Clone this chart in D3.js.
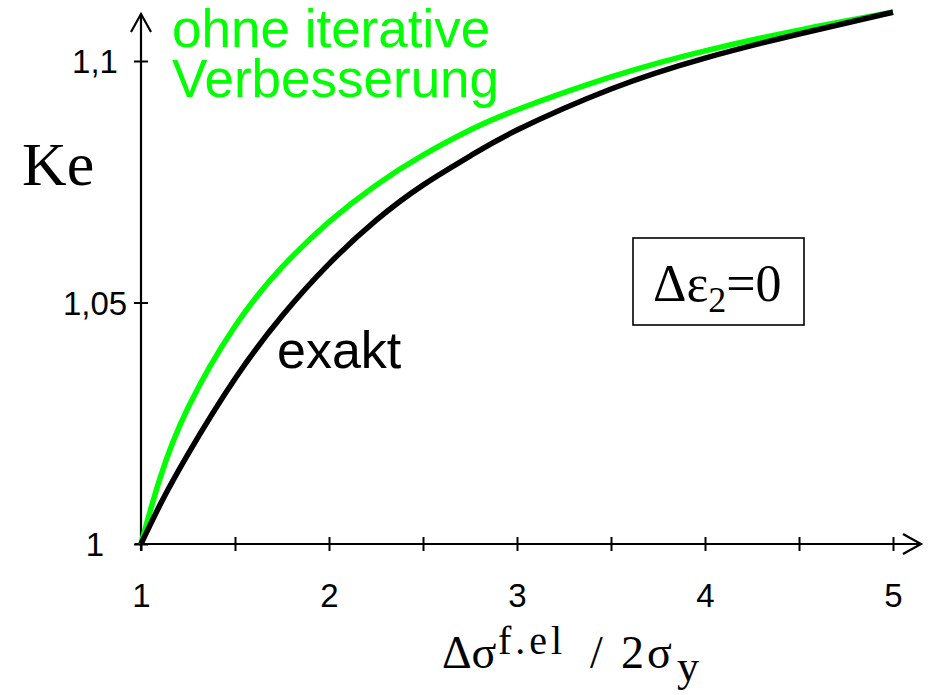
<!DOCTYPE html>
<html>
<head>
<meta charset="utf-8">
<script src="https://cdn.jsdelivr.net/npm/d3@7"></script>
<style>
  html, body { margin: 0; padding: 0; background: #fff; }
  svg { display: block; }
</style>
</head>
<body>
<svg id="chart" width="934" height="695"></svg>
<script>
// Ke over the normalised stress range, exact solution vs. without iterative refinement
const stressX = [1, 1.1, 1.25, 1.5, 1.75, 2, 2.25, 2.5, 2.75, 3, 3.5, 4, 4.5, 5];
const exaktY = [1, 1.0080, 1.0186, 1.0342, 1.0472, 1.0580, 1.0670, 1.0743, 1.0803, 1.0857, 1.0942, 1.1006, 1.1056, 1.1101];
const ohneY  = [1, 1.0135, 1.0282, 1.0451, 1.0573, 1.0667, 1.0743, 1.0805, 1.0857, 1.0899, 1.0967, 1.1021, 1.1064, 1.1101];

const xTickValues = [1, 1.5, 2, 2.5, 3, 3.5, 4, 4.5, 5];
const xTickLabels = ["1", "", "2", "", "3", "", "4", "", "5"];
const yTickValues = [1, 1.05, 1.1];
const yTickLabels = ["1", "1,05", "1,1"];

const svg = d3.select("#chart");

const x = d3.scaleLinear().domain([1, 5]).range([141, 893]);
const y = d3.scaleLinear().domain([1, 1.1]).range([544, 61]);

const sans = "'Liberation Sans', Arial, sans-serif";
const serif = "'Liberation Serif', 'Times New Roman', serif";

// x axis with crossing ticks
const xAxis = svg.append("g").attr("transform", `translate(0,${y(1)})`)
  .call(d3.axisBottom(x).tickValues(xTickValues).tickSize(0).tickFormat(""));
xAxis.select(".domain").remove();
xAxis.selectAll(".tick line").remove();
xAxis.selectAll(".tick").append("line")
  .attr("y1", -7).attr("y2", 7)
  .attr("stroke", "#000").attr("stroke-width", 2);
xAxis.selectAll(".tick").append("text")
  .attr("y", 63)
  .attr("text-anchor", "middle")
  .attr("fill", "#000")
  .style("font-family", sans)
  .style("font-size", "33px")
  .text((d, i) => xTickLabels[i]);

// y axis with crossing ticks
const yAxis = svg.append("g").attr("transform", `translate(${x(1)},0)`)
  .call(d3.axisLeft(y).tickValues(yTickValues).tickSize(0).tickFormat(""));
yAxis.select(".domain").remove();
yAxis.selectAll(".tick line").remove();
yAxis.selectAll(".tick").append("line")
  .attr("x1", -7).attr("x2", 7)
  .attr("stroke", "#000").attr("stroke-width", 2);
yAxis.selectAll(".tick").append("text")
  .attr("x", -46)
  .attr("dy", "0.36em")
  .attr("text-anchor", "middle")
  .attr("fill", "#000")
  .style("font-family", sans)
  .style("font-size", "33px")
  .text((d, i) => yTickLabels[i]);

// axis lines with open arrowheads
const axisG = svg.append("g").attr("stroke", "#000").attr("stroke-width", 2.2).attr("fill", "none");
axisG.append("line").attr("x1", 135).attr("x2", 921).attr("y1", y(1)).attr("y2", y(1));
axisG.append("path").attr("d", `M903,${y(1) - 10} L921,${y(1)} L903,${y(1) + 10}`);
axisG.append("line").attr("x1", x(1)).attr("x2", x(1)).attr("y1", y(1) + 7).attr("y2", 14);
axisG.append("path").attr("d", `M${x(1) - 10},32 L${x(1)},14 L${x(1) + 10},32`);

// curves
const line = d3.line()
  .x(d => x(d[0]))
  .y(d => y(d[1]))
  .curve(d3.curveNatural);

svg.append("path")
  .datum(d3.zip(stressX, ohneY))
  .attr("d", line)
  .attr("fill", "none")
  .attr("stroke", "#00ff00")
  .attr("stroke-width", 5.5);

svg.append("path")
  .datum(d3.zip(stressX, exaktY))
  .attr("d", line)
  .attr("fill", "none")
  .attr("stroke", "#000")
  .attr("stroke-width", 5.5);

// curve labels
const green = svg.append("text")
  .attr("fill", "#00ff00")
  .style("font-family", sans)
  .style("font-size", "53px");
green.append("tspan").attr("x", 172).attr("y", 47).text("ohne iterative");
green.append("tspan").attr("x", 172).attr("y", 97).text("Verbesserung");

svg.append("text")
  .attr("x", 277).attr("y", 368)
  .attr("fill", "#000")
  .style("font-family", sans)
  .style("font-size", "52px")
  .text("exakt");

// y axis title
svg.append("text")
  .attr("x", 22).attr("y", 185)
  .attr("fill", "#000")
  .style("font-family", serif)
  .style("font-size", "62px")
  .text("Ke");

// x axis title
const xt = svg.append("text")
  .attr("y", 668)
  .attr("fill", "#000")
  .style("font-family", serif)
  .style("font-size", "46px");
xt.append("tspan").attr("x", 442).text("Δσ");
xt.append("tspan").attr("x", 498).attr("y", 654)
  .style("font-size", "40px").style("letter-spacing", "4px").text("f.el");
xt.append("tspan").attr("x", 590).attr("y", 668).text("/");
xt.append("tspan").attr("x", 621).attr("y", 668).style("letter-spacing", "3px").text("2σ");
xt.append("tspan").attr("x", 677).attr("y", 681).style("font-size", "44px").text("y");

// condition box
svg.append("rect")
  .attr("x", 633).attr("y", 238)
  .attr("width", 171).attr("height", 87)
  .attr("fill", "none")
  .attr("stroke", "#000")
  .attr("stroke-width", 1.6);
const bt = svg.append("text")
  .attr("x", 653).attr("y", 301)
  .attr("fill", "#000")
  .style("font-family", serif)
  .style("font-size", "52px");
bt.append("tspan").text("Δε");
bt.append("tspan").attr("dy", 11).style("font-size", "36px").text("2");
bt.append("tspan").attr("dy", -11).text("=0");
</script>
</body>
</html>
